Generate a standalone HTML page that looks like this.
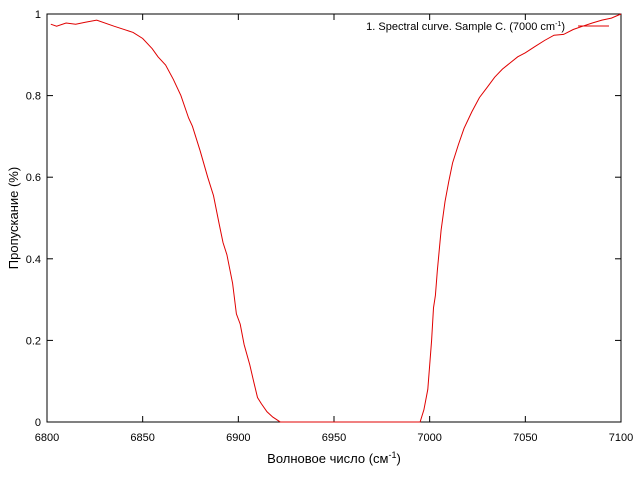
<!DOCTYPE html>
<html><head><meta charset="utf-8"><style>
body{margin:0;background:#fff}
svg{display:block;font-family:"Liberation Sans",sans-serif}
</style></head><body>
<svg id="chart" width="640" height="480">
<g id="grid"></g>
<path id="curve" fill="none" stroke="#e00000" stroke-width="1"/>
<g>
<text x="565" y="30" font-size="11" text-anchor="end" fill="#000">1. Spectral curve. Sample C. (7000 cm<tspan font-size="7" dy="-4">-1</tspan><tspan dy="4">)</tspan></text>
<line x1="578" y1="26" x2="609" y2="26" stroke="#e00000"/>
</g>
<text x="334" y="463" font-size="13" text-anchor="middle">Волновое число (см<tspan font-size="9" dy="-5">-1</tspan><tspan dy="5">)</tspan></text>
<text transform="translate(18,218) rotate(-90)" font-size="13" text-anchor="middle">Пропускание (%)</text>
</svg>
<script>
const xData=[6802,6805,6810,6815,6820,6826,6835,6845,6850,6855,6858,6862,6866,6870,6874,6876,6880,6884,6887,6890,6892,6894,6897,6899,6901,6903,6906,6908,6910,6912,6915,6918,6921,6922,6950,6995,6997,6999,7000,7001,7002,7003,7004,7005,7006,7008,7010,7012,7015,7018,7022,7026,7030,7034,7038,7042,7046,7050,7055,7060,7065,7070,7075,7080,7085,7090,7095,7100];
const yData=[0.975,0.97,0.978,0.975,0.98,0.985,0.97,0.955,0.94,0.915,0.895,0.875,0.84,0.8,0.745,0.725,0.665,0.6,0.555,0.485,0.44,0.41,0.34,0.265,0.24,0.19,0.14,0.1,0.06,0.045,0.025,0.012,0.003,0,0,0,0.03,0.08,0.14,0.2,0.28,0.31,0.37,0.42,0.47,0.54,0.59,0.635,0.68,0.72,0.76,0.795,0.82,0.845,0.865,0.88,0.895,0.905,0.92,0.935,0.948,0.95,0.962,0.97,0.978,0.985,0.99,1.0];
const xTicks=[6800,6850,6900,6950,7000,7050,7100];
const yTicks=[0,0.2,0.4,0.6,0.8,1];
const yTickLabels=["0","0.2","0.4","0.6","0.8","1"];
const L=47,R=621,T=14,B=422;
const sx=v=>L+(v-6800)/(7100-6800)*(R-L);
const sy=v=>B-v*(B-T);
const NS="http://www.w3.org/2000/svg";
const g=document.getElementById('grid');
function mk(tag,attrs){const e=document.createElementNS(NS,tag);for(const k in attrs)e.setAttribute(k,attrs[k]);g.appendChild(e);return e;}
const fr=mk('rect',{x:L,y:T,width:R-L,height:B-T,fill:'none',stroke:'#000','stroke-width':1});


xTicks.forEach(v=>{
 const x=sx(v);
 const t1=mk('line',{x1:x,y1:B,x2:x,y2:B-6,stroke:'#000'});
 
 
 const t2=mk('line',{x1:x,y1:T,x2:x,y2:T+6,stroke:'#000'});
 
 
 const tx=mk('text',{x:x,y:441,'font-size':11,'text-anchor':'middle'});
 tx.textContent=v;
 
 
});
yTicks.forEach((v,i)=>{
 const y=sy(v);
 const t1=mk('line',{x1:L,y1:y,x2:L+6,y2:y,stroke:'#000'});
 
 
 const t2=mk('line',{x1:R,y1:y,x2:R-6,y2:y,stroke:'#000'});
 
 
 const tx=mk('text',{x:L-6,y:y+4,'font-size':11,'text-anchor':'end'});
 tx.textContent=yTickLabels[i];
 
 
});
document.getElementById('curve').setAttribute('d',xData.map((v,i)=>(i?'L':'M')+sx(v).toFixed(1)+','+sy(yData[i]).toFixed(1)).join(''));
</script>
</body></html>
